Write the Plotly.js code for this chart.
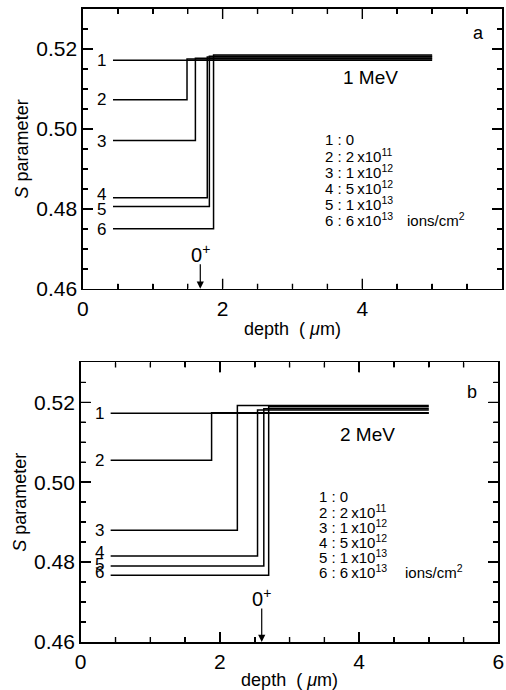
<!DOCTYPE html>
<html>
<head>
<meta charset="utf-8">
<script src="https://cdn.plot.ly/plotly-3.0.1.min.js"></script>
<style>
  html, body { margin: 0; padding: 0; background: #fff; }
  #chart { width: 506px; height: 690px; }
</style>
</head>
<body>
<div id="chart"></div>
<script>
// S-parameter depth profiles after O+ implantation at two energies.
// Each profile is a step: damaged layer (low S) down to the step depth, bulk value beyond.

const curveLabels = ['1', '2', '3', '4', '5', '6'];
const doseTexts = ['0', '2\u2009x10<sup>11</sup>', '1\u2009x10<sup>12</sup>', '5\u2009x10<sup>12</sup>', '1\u2009x10<sup>13</sup>', '6\u2009x10<sup>13</sup>'];

const depthStart = 0.43;
const depthEnd = 5.0;

// 1 MeV
const stepDepth1MeV = [null, 1.49, 1.61, 1.78, 1.81, 1.87];
const sLow1MeV  = [0.5172, 0.5073, 0.4971, 0.4828, 0.4806, 0.4750];
const sHigh1MeV = [0.5172, 0.5175, 0.5177, 0.5180, 0.5182, 0.5185];
const labelS1MeV = [0.5171, 0.5073, 0.4968, 0.4835, 0.4799, 0.4749];

// 2 MeV
const stepDepth2MeV = [null, 1.88, 2.25, 2.54, 2.63, 2.70];
const sLow2MeV  = [0.5173, 0.5055, 0.4880, 0.4815, 0.4790, 0.4767];
const sHigh2MeV = [0.5173, 0.5174, 0.5192, 0.5181, 0.5184, 0.5189];
const labelS2MeV = [0.5172, 0.5055, 0.4878, 0.4823, 0.4795, 0.4775];

// projected O+ range marker
const implantRange = [1.68, 2.60];
const energyTexts = ['1 MeV', '2 MeV'];
const panelTags = ['a', 'b'];

// axis ranges and tick spacing
const depthRange = [0, 6];
const sRange = [0.46, 0.53];
const depthMajor = 2, depthMinor = 0.5;
const sMajor = 0.02, sMinor = 0.005;

const FONT = '"Liberation Sans", Arial, Helvetica, sans-serif';
const W = 506, H = 690;
const MARGIN = { l: 80, r: 4, t: 9, b: 48 };

const panels = [
  { step: stepDepth1MeV, low: sLow1MeV, high: sHigh1MeV, lab: labelS1MeV,
    xa: 'x', ya: 'y', xDomain: [0.007, 1], yDomain: [0.558, 1],
    legX: 3.44, legY0: 0.4973, legDy: 0.0040, ionsX: 4.61,
    energyPos: [4.11, 0.5128], tagPos: [5.66, 0.5240], arrowLen: 26, zeroY: 0.4688 },
  { step: stepDepth2MeV, low: sLow2MeV, high: sHigh2MeV, lab: labelS2MeV,
    xa: 'x2', ya: 'y2', xDomain: [0.0017, 0.9915], yDomain: [0, 0.4417],
    legX: 3.40, legY0: 0.4965, legDy: 0.00375, ionsX: 4.63,
    energyPos: [4.12, 0.5119], tagPos: [5.62, 0.5227], arrowLen: 35, zeroY: 0.4712 }
];

const traces = [];
const annotations = [];

// inward tick marks on all four sides of a panel, lengths given in pixels
function frameTicks(p) {
  const plotW = (W - MARGIN.l - MARGIN.r) * (p.xDomain[1] - p.xDomain[0]);
  const plotH = (H - MARGIN.t - MARGIN.b) * (p.yDomain[1] - p.yDomain[0]);
  const dxPx = (depthRange[1] - depthRange[0]) / plotW;
  const dyPx = (sRange[1] - sRange[0]) / plotH;
  const xs = [], ys = [];
  const nx = Math.round((depthRange[1] - depthRange[0]) / depthMinor);
  for (let k = 1; k < nx; k++) {
    const v = depthRange[0] + k * depthMinor;
    const len = (Math.abs(v / depthMajor - Math.round(v / depthMajor)) < 1e-6 ? 10 : 5) * dyPx;
    xs.push(v, v, null, v, v, null);
    ys.push(sRange[0], sRange[0] + len, null, sRange[1], sRange[1] - len, null);
  }
  const ny = Math.round((sRange[1] - sRange[0]) / sMinor);
  for (let k = 1; k < ny; k++) {
    const v = +(sRange[0] + k * sMinor).toFixed(4);
    const r = (v - sRange[0]) / sMajor;
    const len = (Math.abs(r - Math.round(r)) < 1e-6 ? 10 : 5) * dxPx;
    xs.push(depthRange[0], depthRange[0] + len, null, depthRange[1], depthRange[1] - len, null);
    ys.push(v, v, null, v, v, null);
  }
  return {
    x: xs, y: ys, xaxis: p.xa, yaxis: p.ya, type: 'scatter', mode: 'lines',
    line: { color: '#000', width: 1.4 }, connectgaps: false, showlegend: false, hoverinfo: 'skip'
  };
}

panels.forEach((p, pi) => {
  curveLabels.forEach((lbl, i) => {
    let xs, ys;
    if (p.step[i] === null) {
      xs = [depthStart, depthEnd];
      ys = [p.low[i], p.high[i]];
    } else {
      xs = [depthStart, p.step[i], p.step[i], depthEnd];
      ys = [p.low[i], p.low[i], p.high[i], p.high[i]];
    }
    traces.push({
      x: xs, y: ys, xaxis: p.xa, yaxis: p.ya, type: 'scatter', mode: 'lines',
      line: { color: '#000', width: 1.5 }, showlegend: false
    });
    annotations.push({
      x: 0.27, y: p.lab[i], xref: p.xa, yref: p.ya, text: lbl, showarrow: false,
      xanchor: 'center', yanchor: 'middle', font: { family: FONT, size: 17, color: '#000' }
    });
    annotations.push({
      x: p.legX, y: p.legY0 - i * p.legDy, xref: p.xa, yref: p.ya,
      text: lbl + ' : ' + doseTexts[i], showarrow: false,
      xanchor: 'left', yanchor: 'middle', font: { family: FONT, size: 15, color: '#000' }
    });
  });
  traces.push(frameTicks(p));
  annotations.push({
    x: p.ionsX, y: p.legY0 - 5 * p.legDy, xref: p.xa, yref: p.ya,
    text: 'ions/cm<sup>2</sup>', showarrow: false,
    xanchor: 'left', yanchor: 'middle', font: { family: FONT, size: 15, color: '#000' }
  });
  annotations.push({
    x: p.energyPos[0], y: p.energyPos[1], xref: p.xa, yref: p.ya,
    text: energyTexts[pi], showarrow: false, xanchor: 'center', yanchor: 'middle',
    font: { family: FONT, size: 19, color: '#000' }
  });
  annotations.push({
    x: p.tagPos[0], y: p.tagPos[1], xref: p.xa, yref: p.ya,
    text: panelTags[pi], showarrow: false, xanchor: 'center', yanchor: 'middle',
    font: { family: FONT, size: 18, color: '#000' }
  });
  // arrow pointing at the projected range on the depth axis
  annotations.push({
    x: implantRange[pi], y: 0.46, xref: p.xa, yref: p.ya, text: '',
    showarrow: true, ax: 0, ay: -p.arrowLen,
    arrowhead: 2, arrowsize: 1.2, arrowwidth: 1.2, arrowcolor: '#000', standoff: 0
  });
  annotations.push({
    x: implantRange[pi], y: p.zeroY, xref: p.xa, yref: p.ya,
    text: '0<sup>+</sup>', showarrow: false, xanchor: 'center', yanchor: 'middle',
    font: { family: FONT, size: 20, color: '#000' }
  });
});

// boxed frame with inward ticks on all four sides
const frame = {
  showline: true, linewidth: 1.6, linecolor: '#000', mirror: 'ticks',
  ticks: 'inside', tickwidth: 1.5, tickcolor: '#000', layer: 'above traces',
  showgrid: false, zeroline: false
};

function xAxis(domain, anchor) {
  return Object.assign({}, frame, {
    domain: domain, anchor: anchor, range: depthRange, tickmode: 'linear', tick0: 0, dtick: depthMajor,
    ticklen: 10,
    minor: { dtick: depthMinor, ticks: 'inside', ticklen: 5, tickwidth: 1.5, tickcolor: '#000' },
    tickfont: { family: FONT, size: 21, color: '#000' },
    title: { text: 'depth\u00a0\u00a0(\u00a0<i>\u03bc</i>m)', font: { family: FONT, size: 18, color: '#000' }, standoff: 4 }
  });
}
function yAxis(domain, anchor) {
  return Object.assign({}, frame, {
    domain: domain, anchor: anchor, range: sRange, tickmode: 'linear', tick0: sRange[0], dtick: sMajor,
    tickformat: '.2f', ticklen: 10,
    minor: { dtick: sMinor, ticks: 'inside', ticklen: 5, tickwidth: 1.5, tickcolor: '#000' },
    tickfont: { family: FONT, size: 21, color: '#000' },
    title: { text: '<i>S</i> parameter', font: { family: FONT, size: 18, color: '#000' }, standoff: 3 }
  });
}

const layout = {
  width: W, height: H,
  margin: MARGIN,
  showlegend: false,
  xaxis: xAxis(panels[0].xDomain, 'y'),
  yaxis: yAxis(panels[0].yDomain, 'x'),
  xaxis2: xAxis(panels[1].xDomain, 'y2'),
  yaxis2: yAxis(panels[1].yDomain, 'x2'),
  annotations: annotations
};

Plotly.newPlot('chart', traces, layout, { staticPlot: true });
</script>
</body>
</html>
